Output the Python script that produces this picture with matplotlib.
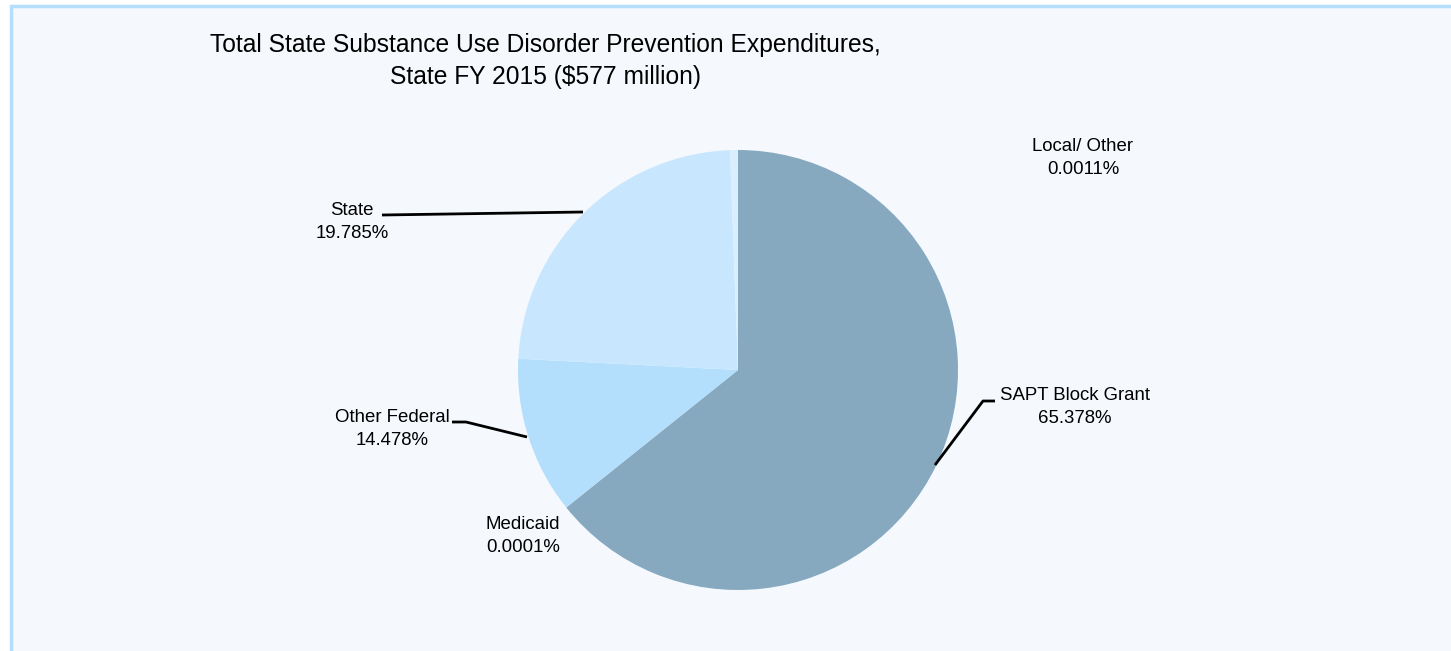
import matplotlib
matplotlib.use("Agg")
import matplotlib.pyplot as plt
from matplotlib.patches import Rectangle

plt.rcParams['font.family'] = ['Liberation Sans', 'DejaVu Sans']

# slices, clockwise from 12 o'clock
categories = ["SAPT Block Grant", "Medicaid", "Other Federal", "State", "Local/ Other"]
# slice sizes as drawn in the reference (percent)
shares = [64.25, 0.0001, 11.56, 23.6, 0.58]
# percentages printed on the labels
label_pcts = ["65.378%", "0.0001%", "14.478%", "19.785%", "0.0011%"]
colors = ["#87a9c0", "#87a9c0", "#b3dffd", "#c8e7fe", "#d9effe"]

title = "Total State Substance Use Disorder Prevention Expenditures,\nState FY 2015 ($577 million)"

W, H = 1451, 651
fig = plt.figure(figsize=(W / 100, H / 100), dpi=100, facecolor="white")
ax = fig.add_axes([0, 0, 1, 1])


def py(y):
    # pixel row -> data y
    return H - y


ax.pie(shares, colors=colors, startangle=90, counterclock=False,
       center=(738, py(370)), radius=220, frame=True,
       wedgeprops=dict(linewidth=0))
ax.set_xlim(0, W)
ax.set_ylim(0, H)
ax.set_aspect("equal")
ax.axis("off")

# panel background with light blue frame
ax.add_patch(Rectangle((11, -10), W + 20, py(6) + 10, facecolor="#f5f9fe",
                       edgecolor="#b3dffd", linewidth=2.5, zorder=0))

ax.text(545, py(61), title, ha="center", va="center", fontsize=17.7,
        linespacing=1.45)

lab_kw = dict(ha="center", va="center", fontsize=13.4, linespacing=1.45)
# text centre positions (pixels) for each label
pos = {
    "SAPT Block Grant": (1075, 407),
    "Medicaid": (523, 536),
    "Other Federal": (392, 429),
    "State": (352, 222),
    "Local/ Other": (1083, 158),
}
for name, pct in zip(categories, label_pcts):
    x, y = pos[name]
    ax.text(x, py(y), f"{name}\n{pct}", **lab_kw)

# leader lines
line_kw = dict(color="black", linewidth=2, solid_capstyle="butt")
ax.plot([382, 583], [py(215), py(212)], **line_kw)
ax.plot([452, 466, 527], [py(422), py(422), py(437)], **line_kw)
ax.plot([935, 983, 995], [py(465), py(401), py(401)], **line_kw)

fig.savefig("out.png", dpi=100, facecolor="white")
